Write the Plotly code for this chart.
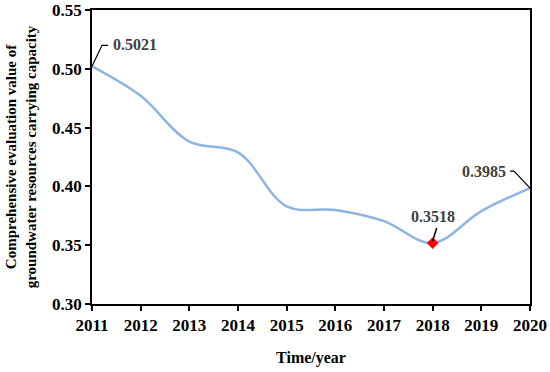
import plotly.graph_objects as go

years = [2011, 2012, 2013, 2014, 2015, 2016, 2017, 2018, 2019, 2020]
values = [0.5021, 0.477, 0.438, 0.429, 0.383, 0.380, 0.3705, 0.3518, 0.379, 0.3985]
y_ticks = [0.30, 0.35, 0.40, 0.45, 0.50, 0.55]
x_title = "Time/year"
y_title = "Comprehensive evaluation value of<br>groundwater resources carrying capacity"

FONT = "Liberation Serif"
i_min = values.index(min(values))

fig = go.Figure()
fig.add_trace(go.Scatter(
    x=years, y=values, mode="lines",
    line=dict(color="#8EB4E3", width=2.5, shape="spline", smoothing=1.0),
    hoverinfo="skip", showlegend=False,
))
fig.add_trace(go.Scatter(
    x=[years[i_min]], y=[values[i_min]], mode="markers",
    marker=dict(symbol="diamond", color="#FF0000", size=9),
    showlegend=False,
))

lab_font = dict(family=FONT, size=16, color="#404040")

fig.add_shape(type="path", xref="x", yref="y", xsizemode="pixel", ysizemode="pixel",
              xanchor=years[0], yanchor=values[0],
              path="M0,0 L10,21 L16,21", line=dict(color="black", width=1.2))
fig.add_annotation(x=years[0], y=values[0], text="<b>0.5021</b>", showarrow=False,
                   xanchor="left", yanchor="middle", xshift=19, yshift=22, font=lab_font)

fig.add_shape(type="path", xref="x", yref="y", xsizemode="pixel", ysizemode="pixel",
              xanchor=years[-1], yanchor=values[-1],
              path="M0,0 L-16,17 L-20,17", line=dict(color="black", width=1.2))
fig.add_annotation(x=years[-1], y=values[-1], text="<b>0.3985</b>", showarrow=False,
                   xanchor="right", yanchor="middle", xshift=-22, yshift=17, font=lab_font)

fig.add_shape(type="path", xref="x", yref="y", xsizemode="pixel", ysizemode="pixel",
              xanchor=years[i_min], yanchor=values[i_min],
              path="M0,2 L4,15", line=dict(color="black", width=1.5))
fig.add_annotation(x=years[i_min], y=values[i_min], text="<b>0.3518</b>", showarrow=False,
                   xanchor="center", yanchor="middle", yshift=27, font=lab_font)

fig.update_layout(
    width=550, height=372,
    margin=dict(l=92, r=20, t=10, b=68),
    paper_bgcolor="white", plot_bgcolor="white",
    font=dict(family=FONT, color="black"),
    xaxis=dict(
        range=[years[0], years[-1]], tickvals=years, ticktext=["<b>%d</b>" % y for y in years],
        ticks="outside", ticklen=5, tickwidth=1.5, tickcolor="black",
        showline=True, linecolor="black", linewidth=1.5, mirror=True,
        showgrid=False, zeroline=False, automargin=False,
        tickfont=dict(family=FONT, size=17, color="black"),
        title=dict(text="<b>" + x_title + "</b>", font=dict(family=FONT, size=16, color="black"), standoff=18),
    ),
    yaxis=dict(
        range=[y_ticks[0], y_ticks[-1]], tickvals=y_ticks, ticktext=["<b>%.2f</b>" % v for v in y_ticks],
        ticks="outside", ticklen=5, tickwidth=1.5, tickcolor="black",
        showline=True, linecolor="black", linewidth=1.5, mirror=True,
        showgrid=False, zeroline=False, automargin=False,
        tickfont=dict(family=FONT, size=17, color="black"),
        title=dict(text="<b>" + y_title + "</b>", font=dict(family=FONT, size=15, color="black"), standoff=12),
    ),
)

fig.write_html("out.html", config={"displayModeBar": False},
               post_script="document.body.style.margin='0';")
